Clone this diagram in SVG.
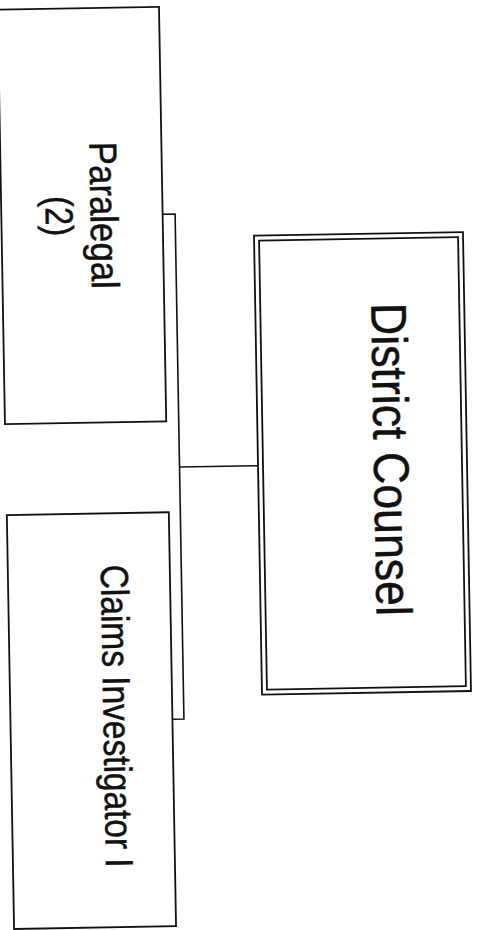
<svg xmlns="http://www.w3.org/2000/svg" width="482" height="930" viewBox="0 0 482 930">
<style>
.box{fill:#fff;stroke:#111;stroke-width:1.8}
.conn{fill:none;stroke:#111;stroke-width:1.6}
.t{font-family:"Liberation Sans",Arial,Helvetica,sans-serif;fill:#111;stroke:#111;stroke-width:0.5;text-anchor:middle}
.s{font-size:39px}
.l{font-size:50px}
</style>
<rect width="482" height="930" fill="#fff"/>
<g transform="rotate(-1 240 465)">
<g id="connectors">
<path class="conn" d="M167,213 H179.5 V718 H168"/>
<path class="conn" d="M179.5,466 H258"/>
</g>
<g id="paralegal">
<rect class="box" x="5.7" y="5.6" width="161.3" height="414.4"/>
<text class="t s" transform="translate(95,213) rotate(90)" textLength="147" lengthAdjust="spacingAndGlyphs">Paralegal</text>
<text class="t s" transform="translate(50,213) rotate(90)" textLength="40" lengthAdjust="spacingAndGlyphs">(2)</text>
</g>
<g id="claims">
<rect class="box" x="6" y="511" width="162" height="414"/>
<text class="t s" transform="translate(99,714) rotate(90)" textLength="303" lengthAdjust="spacingAndGlyphs">Claims Investigator I</text>
</g>
<g id="district">
<rect class="box" x="258" y="236" width="209" height="459"/>
<rect class="box" x="263" y="241" width="199" height="449"/>
<text class="t l" transform="translate(374,462) rotate(90)" textLength="313" lengthAdjust="spacingAndGlyphs">District Counsel</text>
</g>
</g>
</svg>
